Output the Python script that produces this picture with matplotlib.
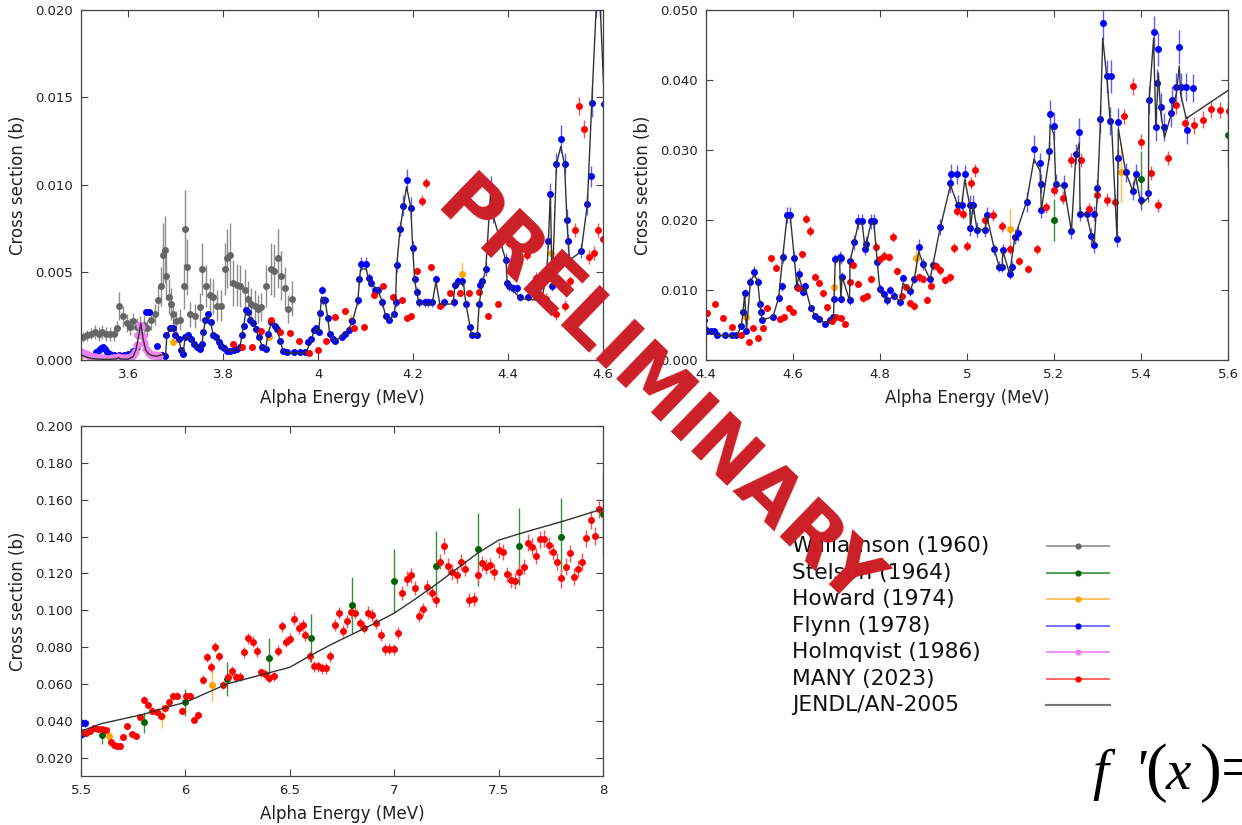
import matplotlib
matplotlib.use("Agg")
import matplotlib.pyplot as plt
from matplotlib.ticker import FuncFormatter, MultipleLocator

# ---------------- data (alpha energy in MeV, cross section in b) ----------------
will_e = [3.505, 3.513, 3.521, 3.529, 3.537, 3.545, 3.553, 3.561, 3.569, 3.576,
          3.581, 3.588, 3.596, 3.604, 3.610, 3.617, 3.625, 3.633, 3.640, 3.648,
          3.655, 3.662, 3.668, 3.672, 3.676, 3.680, 3.685, 3.690, 3.694, 3.700,
          3.708, 3.716, 3.720, 3.723, 3.730, 3.740, 3.750, 3.756, 3.763, 3.771,
          3.778, 3.787, 3.796, 3.804, 3.808, 3.813, 3.820, 3.828, 3.836, 3.845,
          3.851, 3.858, 3.866, 3.873, 3.880, 3.890, 3.900, 3.907, 3.916, 3.922,
          3.929, 3.937, 3.945]
will_xs = [0.0013, 0.0014, 0.0015, 0.0016, 0.0015, 0.0016, 0.0015, 0.0015, 0.0015, 0.0018,
           0.0031, 0.0025, 0.0021, 0.0019, 0.0022, 0.0019, 0.0020, 0.0020, 0.0018, 0.0023,
           0.0026, 0.0034, 0.0042, 0.0060, 0.0063, 0.0048, 0.0036, 0.0032, 0.0026, 0.0022,
           0.0023, 0.0042, 0.0075, 0.0053, 0.0026, 0.0025, 0.0030, 0.0052, 0.0042, 0.0037,
           0.0036, 0.0031, 0.0031, 0.0052, 0.0058, 0.0060, 0.0044, 0.0043, 0.0042, 0.0040,
           0.0035, 0.0032, 0.0031, 0.0029, 0.0030, 0.0042, 0.0052, 0.0051, 0.0058, 0.0048,
           0.0041, 0.0029, 0.0035]
will_err = [0.0003, 0.0003, 0.0003, 0.0004, 0.0004, 0.0004, 0.0004, 0.0004, 0.0004, 0.0004,
            0.0008, 0.0006, 0.0005, 0.0005, 0.0005, 0.0005, 0.0005, 0.0005, 0.0005, 0.0006,
            0.0006, 0.0008, 0.0011, 0.0018, 0.0019, 0.0014, 0.0010, 0.0009, 0.0007, 0.0006,
            0.0006, 0.0013, 0.0022, 0.0016, 0.0007, 0.0007, 0.0008, 0.0015, 0.0012, 0.0010,
            0.0010, 0.0009, 0.0009, 0.0015, 0.0017, 0.0018, 0.0013, 0.0012, 0.0012, 0.0012,
            0.0010, 0.0009, 0.0009, 0.0008, 0.0008, 0.0012, 0.0015, 0.0015, 0.0017, 0.0014,
            0.0012, 0.0008, 0.0010]

stel_e = [5.2, 5.4, 5.6, 5.8, 6.0, 6.2, 6.4, 6.6, 6.8, 7.0, 7.2, 7.4, 7.6, 7.8, 8.0]
stel_xs = [0.0200, 0.0259, 0.0321, 0.0391, 0.0500, 0.0626, 0.0738, 0.0850, 0.1027, 0.1159,
           0.1240, 0.1330, 0.1347, 0.1400, 0.1520]
stel_err = [0.0030, 0.0039, 0.0047, 0.0058, 0.0075, 0.0092, 0.0110, 0.0130, 0.0155, 0.0175,
            0.0190, 0.0200, 0.0210, 0.0210, 0.0225]

how_e = [3.500, 3.694, 3.896, 4.070, 4.303, 4.491, 4.694, 4.882, 5.098, 5.354, 5.635, 5.886, 6.129]
how_xs = [0.00020, 0.00100, 0.00130, 0.00230, 0.00490, 0.00610, 0.01040, 0.01450, 0.01870,
          0.02680, 0.03160, 0.04240, 0.05940]
how_err = [0.00005, 0.00010, 0.00015, 0.00030, 0.00070, 0.00090, 0.00150, 0.00200, 0.00280,
           0.00420, 0.00480, 0.00650, 0.00880]

flynn_e = [3.531, 3.537, 3.542, 3.546, 3.550, 3.555, 3.562, 3.570, 3.580, 3.590,
           3.600, 3.610, 3.619, 3.624, 3.636, 3.644, 3.661, 3.670, 3.678, 3.680,
           3.687, 3.694, 3.699, 3.706, 3.711, 3.715, 3.720, 3.725, 3.731, 3.739,
           3.745, 3.750, 3.755, 3.758, 3.762, 3.767, 3.773, 3.779, 3.784, 3.791,
           3.795, 3.801, 3.808, 3.815, 3.822, 3.828, 3.835, 3.839, 3.843, 3.847,
           3.852, 3.856, 3.863, 3.868, 3.875, 3.882, 3.889, 3.894, 3.901, 3.908,
           3.913, 3.920, 3.926, 3.934, 3.948, 3.962, 3.973, 3.978, 3.984, 3.990,
           3.996, 4.001, 4.004, 4.007, 4.009, 4.015, 4.020, 4.024, 4.030, 4.036,
           4.050, 4.057, 4.065, 4.071, 4.083, 4.085, 4.089, 4.101, 4.106, 4.112,
           4.119, 4.126, 4.135, 4.142, 4.148, 4.160, 4.163, 4.165, 4.172, 4.179,
           4.186, 4.195, 4.199, 4.203, 4.207, 4.213, 4.225, 4.232, 4.240, 4.248,
           4.264, 4.285, 4.288, 4.295, 4.302, 4.311, 4.320, 4.323, 4.335, 4.339,
           4.341, 4.346, 4.353, 4.363, 4.369, 4.396, 4.398, 4.402, 4.411, 4.418,
           4.426, 4.443, 4.460, 4.470, 4.481, 4.485, 4.489, 4.493, 4.502, 4.511,
           4.519, 4.524, 4.527, 4.529, 4.554, 4.567, 4.575, 4.576, 4.586, 4.594,
           4.603, 4.609, 4.613, 4.624, 4.628, 4.641, 4.651, 4.659, 4.674, 4.686,
           4.693, 4.695, 4.697, 4.707, 4.710, 4.711, 4.713, 4.730, 4.731, 4.741,
           4.750, 4.759, 4.766, 4.768, 4.779, 4.786, 4.794, 4.800, 4.809, 4.817,
           4.824, 4.832, 4.846, 4.853, 4.869, 4.879, 4.889, 4.899, 4.915, 4.922,
           4.937, 4.962, 4.963, 4.978, 4.979, 4.988, 4.995, 5.006, 5.008, 5.014,
           5.023, 5.042, 5.046, 5.063, 5.074, 5.081, 5.082, 5.098, 5.104, 5.110,
           5.117, 5.137, 5.154, 5.168, 5.169, 5.171, 5.189, 5.191, 5.200, 5.204,
           5.223, 5.240, 5.250, 5.258, 5.260, 5.275, 5.286, 5.292, 5.293, 5.300,
           5.306, 5.312, 5.322, 5.329, 5.332, 5.345, 5.346, 5.348, 5.365, 5.381,
           5.388, 5.400, 5.417, 5.418, 5.429, 5.434, 5.436, 5.440, 5.445, 5.454,
           5.469, 5.471, 5.481, 5.488, 5.491, 5.504, 5.505, 5.519]
flynn_xs = [0.00044, 0.00055, 0.00067, 0.00073, 0.00060, 0.00045, 0.00032, 0.00029, 0.00030, 0.00030,
            0.00034, 0.00050, 0.00075, 0.00140, 0.00274, 0.00274, 0.00078, 0.00030, 0.00022, 0.00143,
            0.00180, 0.00184, 0.00143, 0.00120, 0.00057, 0.00034, 0.00134, 0.00140, 0.00120, 0.00090,
            0.00076, 0.00063, 0.00090, 0.00160, 0.00226, 0.00264, 0.00216, 0.00140, 0.00134, 0.00100,
            0.00080, 0.00067, 0.00054, 0.00050, 0.00057, 0.00063, 0.00073, 0.00140, 0.00197, 0.00283,
            0.00273, 0.00230, 0.00210, 0.00178, 0.00130, 0.00076, 0.00063, 0.00150, 0.00216, 0.00197,
            0.00178, 0.00110, 0.00050, 0.00044, 0.00044, 0.00044, 0.00044, 0.00100, 0.00120, 0.00170,
            0.00180, 0.00160, 0.00270, 0.00400, 0.00340, 0.00340, 0.00240, 0.00150, 0.00120, 0.00110,
            0.00130, 0.00150, 0.00170, 0.00220, 0.00340, 0.00460, 0.00550, 0.00550, 0.00470, 0.00440,
            0.00400, 0.00400, 0.00330, 0.00250, 0.00230, 0.00260, 0.00330, 0.00540, 0.00750, 0.00880,
            0.01030, 0.00870, 0.00640, 0.00460, 0.00390, 0.00330, 0.00330, 0.00330, 0.00330, 0.00460,
            0.00330, 0.00330, 0.00430, 0.00450, 0.00450, 0.00320, 0.00190, 0.00143, 0.00143, 0.00320,
            0.00430, 0.00450, 0.00520, 0.00990, 0.00840, 0.00570, 0.00440, 0.00420, 0.00410, 0.00410,
            0.00360, 0.00360, 0.00360, 0.00350, 0.00490, 0.00680, 0.00950, 0.00420, 0.01120, 0.01260,
            0.01120, 0.00800, 0.00680, 0.00570, 0.00620, 0.00890, 0.01050, 0.01470, 0.02070, 0.02070,
            0.01460, 0.01040, 0.01230, 0.00970, 0.01050, 0.00740, 0.00630, 0.00590, 0.00520, 0.00570,
            0.00620, 0.00870, 0.01440, 0.01470, 0.00870, 0.01450, 0.01190, 0.00850, 0.01410, 0.01680,
            0.01980, 0.01980, 0.01580, 0.01660, 0.01980, 0.01980, 0.01400, 0.01020, 0.00940, 0.00850,
            0.01000, 0.00920, 0.00830, 0.01170, 0.00980, 0.01160, 0.01620, 0.01370, 0.01160, 0.01360,
            0.01900, 0.02530, 0.02660, 0.02650, 0.02220, 0.02220, 0.02650, 0.02220, 0.01880, 0.02220,
            0.01860, 0.01860, 0.02070, 0.01580, 0.01330, 0.01330, 0.01570, 0.01230, 0.01330, 0.01760,
            0.01810, 0.02260, 0.03010, 0.02810, 0.02520, 0.02140, 0.02990, 0.03520, 0.03340, 0.02510,
            0.02500, 0.01840, 0.02940, 0.03250, 0.02090, 0.02090, 0.01770, 0.01640, 0.02090, 0.02450,
            0.03440, 0.04810, 0.04050, 0.03420, 0.04050, 0.01730, 0.02880, 0.03400, 0.02680, 0.02420,
            0.02660, 0.02280, 0.02390, 0.03710, 0.04680, 0.03330, 0.03960, 0.04440, 0.03620, 0.03330,
            0.03530, 0.03720, 0.03900, 0.04470, 0.03900, 0.03900, 0.03290, 0.03880]
flynn_err = [0.0001, 0.0001, 0.0001, 0.0001, 0.0001, 0.0001, 0.0001, 0.0001, 0.0001, 0.0001,
             0.0001, 0.0001, 0.0001, 0.00012, 0.00015, 0.00015, 0.0001, 0.0001, 0.0001, 0.00012,
             0.00012, 0.00012, 0.00012, 0.00012, 0.0001, 0.0001, 0.00012, 0.00012, 0.00012, 0.0001,
             0.0001, 0.0001, 0.0001, 0.00012, 0.00015, 0.00015, 0.00015, 0.00012, 0.00012, 0.0001,
             0.0001, 0.0001, 0.0001, 0.0001, 0.0001, 0.0001, 0.0001, 0.00012, 0.00012, 0.00015,
             0.00015, 0.00015, 0.00015, 0.00012, 0.00012, 0.0001, 0.0001, 0.00012, 0.00015, 0.00012,
             0.00012, 0.00012, 0.0001, 0.0001, 0.0001, 0.0001, 0.0001, 0.0001, 0.00012, 0.00012,
             0.00012, 0.00012, 0.00015, 0.00025, 0.00025, 0.00025, 0.00015, 0.00012, 0.00012, 0.00012,
             0.00012, 0.00012, 0.00012, 0.00015, 0.00025, 0.00025, 0.0004, 0.0004, 0.00025, 0.00025,
             0.00025, 0.00025, 0.00025, 0.00015, 0.00015, 0.00015, 0.00025, 0.0004, 0.0004, 0.0006,
             0.0006, 0.0006, 0.0004, 0.00025, 0.00025, 0.00025, 0.00025, 0.00025, 0.00025, 0.00025,
             0.00025, 0.00025, 0.00025, 0.00025, 0.00025, 0.00025, 0.00012, 0.00012, 0.00012, 0.00025,
             0.00025, 0.00025, 0.0004, 0.0006, 0.0006, 0.0004, 0.00025, 0.00025, 0.00025, 0.00025,
             0.00025, 0.00025, 0.00025, 0.00025, 0.00025, 0.0004, 0.0006, 0.00025, 0.0006, 0.0008,
             0.0006, 0.0006, 0.0004, 0.0004, 0.0004, 0.0006, 0.0006, 0.0008, 0.0011, 0.0011,
             0.0008, 0.0006, 0.0008, 0.0006, 0.0006, 0.0004, 0.0004, 0.0004, 0.0004, 0.0004,
             0.0004, 0.0006, 0.0008, 0.0008, 0.0006, 0.0008, 0.0006, 0.0006, 0.0008, 0.0011,
             0.0011, 0.0011, 0.0008, 0.0011, 0.0011, 0.0011, 0.0008, 0.0006, 0.0006, 0.0006,
             0.0006, 0.0006, 0.0006, 0.0006, 0.0006, 0.0006, 0.0011, 0.0008, 0.0006, 0.0008,
             0.0011, 0.0014, 0.0014, 0.0014, 0.0014, 0.0014, 0.0014, 0.0014, 0.0011, 0.0014,
             0.0011, 0.0011, 0.0011, 0.0008, 0.0008, 0.0008, 0.0008, 0.0008, 0.0008, 0.0011,
             0.0011, 0.0014, 0.0020, 0.0014, 0.0014, 0.0011, 0.0014, 0.0020, 0.0020, 0.0014,
             0.0014, 0.0011, 0.0014, 0.0020, 0.0011, 0.0011, 0.0011, 0.0011, 0.0011, 0.0014,
             0.0020, 0.0024, 0.0024, 0.0020, 0.0024, 0.0011, 0.0014, 0.0020, 0.0014, 0.0014,
             0.0014, 0.0014, 0.0014, 0.0020, 0.0024, 0.0020, 0.0020, 0.0024, 0.0020, 0.0020,
             0.0020, 0.0020, 0.0020, 0.0024, 0.0020, 0.0020, 0.0020, 0.0020]

holm_e = [3.500, 3.505, 3.510, 3.515, 3.520, 3.525, 3.530, 3.535, 3.540, 3.545,
          3.550, 3.555, 3.560, 3.565, 3.570, 3.575, 3.578, 3.581, 3.585, 3.590,
          3.595, 3.600, 3.605, 3.610, 3.614, 3.618, 3.621, 3.624, 3.627, 3.630,
          3.633, 3.637, 3.641, 3.645, 3.650, 3.655, 3.660, 3.665]
holm_xs = [0.00045, 0.00040, 0.00033, 0.00027, 0.00022, 0.00018, 0.00015, 0.00012, 0.00010, 0.00009,
           0.00008, 0.00008, 0.00008, 0.00009, 0.00010, 0.00012, 0.00018, 0.00012, 0.00009, 0.00009,
           0.00010, 0.00012, 0.00016, 0.00026, 0.00045, 0.00085, 0.00140, 0.00200, 0.00190, 0.00135,
           0.00095, 0.00065, 0.00048, 0.00037, 0.00030, 0.00026, 0.00024, 0.00022]
holm_err = [0.00006, 0.00006, 0.00006, 0.00006, 0.00006, 0.00005, 0.00005, 0.00005, 0.00005, 0.00005,
            0.00005, 0.00005, 0.00005, 0.00005, 0.00005, 0.00005, 0.00005, 0.00005, 0.00005, 0.00005,
            0.00005, 0.00005, 0.00005, 0.00006, 0.00006, 0.00008, 0.00010, 0.00012, 0.00012, 0.00010,
            0.00008, 0.00006, 0.00006, 0.00006, 0.00005, 0.00005, 0.00005, 0.00005]

many_e = [3.820, 3.840, 3.861, 3.880, 3.901, 3.920, 3.940, 3.960, 3.980, 3.999,
          4.016, 4.035, 4.057, 4.076, 4.096, 4.117, 4.136, 4.157, 4.177, 4.188,
          4.196, 4.207, 4.218, 4.227, 4.238, 4.257, 4.278, 4.298, 4.318, 4.339,
          4.358, 4.379, 4.402, 4.420, 4.440, 4.459, 4.480, 4.500, 4.509, 4.520,
          4.530, 4.540, 4.550, 4.560, 4.570, 4.580, 4.590, 4.600, 4.611, 4.621,
          4.631, 4.640, 4.650, 4.660, 4.670, 4.679, 4.690, 4.699, 4.710, 4.720,
          4.730, 4.739, 4.750, 4.760, 4.770, 4.779, 4.791, 4.800, 4.810, 4.820,
          4.829, 4.840, 4.850, 4.860, 4.869, 4.878, 4.889, 4.899, 4.908, 4.918,
          4.929, 4.938, 4.950, 4.960, 4.969, 4.978, 4.990, 5.000, 5.009, 5.019,
          5.041, 5.060, 5.081, 5.100, 5.120, 5.140, 5.160, 5.181, 5.200, 5.221,
          5.240, 5.262, 5.281, 5.300, 5.321, 5.340, 5.362, 5.381, 5.400, 5.422,
          5.440, 5.462, 5.481, 5.502, 5.522, 5.542, 5.562, 5.582, 5.602, 5.622,
          5.642, 5.658, 5.674, 5.686,
          5.703, 5.722, 5.742, 5.762, 5.783, 5.802, 5.822, 5.842, 5.862, 5.882,
          5.903, 5.922, 5.942, 5.962, 5.982, 6.002, 6.023, 6.042, 6.062, 6.082,
          6.102, 6.122, 6.142, 6.162, 6.182, 6.202, 6.222, 6.242, 6.262, 6.282,
          6.302, 6.322, 6.342, 6.362, 6.382, 6.402, 6.422, 6.442, 6.462, 6.482,
          6.502, 6.522, 6.542, 6.562, 6.575, 6.595, 6.614, 6.635, 6.654, 6.675,
          6.694, 6.715, 6.734, 6.755, 6.774, 6.795, 6.814, 6.835, 6.854, 6.875,
          6.894, 6.915, 6.936, 6.957, 6.976, 6.998, 7.018, 7.038, 7.059, 7.079,
          7.099, 7.119, 7.139, 7.159, 7.179, 7.199, 7.220, 7.239, 7.260, 7.279,
          7.300, 7.319, 7.340, 7.359, 7.380, 7.399, 7.420, 7.439, 7.460, 7.479,
          7.500, 7.519, 7.540, 7.559, 7.579, 7.599, 7.620, 7.639, 7.660, 7.679,
          7.700, 7.719, 7.740, 7.760, 7.780, 7.800, 7.821, 7.840, 7.861, 7.880,
          7.901, 7.920, 7.941, 7.960, 7.981]
many_xs = [0.00092, 0.00073, 0.00076, 0.00164, 0.00230, 0.00159, 0.00153, 0.00107, 0.00038, 0.00057,
           0.00107, 0.00245, 0.00280, 0.00180, 0.00190, 0.00370, 0.00420, 0.00360, 0.00340, 0.00240,
           0.00250, 0.00510, 0.00910, 0.01010, 0.00530, 0.00310, 0.00380, 0.00380, 0.00380, 0.00390,
           0.00250, 0.00320, 0.00670, 0.00800, 0.00600, 0.00470, 0.00350, 0.00260, 0.00450, 0.00310,
           0.00450, 0.00740, 0.01450, 0.01320, 0.00590, 0.00610, 0.00740, 0.00690, 0.01030, 0.01510,
           0.02020, 0.01840, 0.01190, 0.01100, 0.00950, 0.00750, 0.00550, 0.00620, 0.00600, 0.00520,
           0.01110, 0.01360, 0.01090, 0.00880, 0.00910, 0.01160, 0.01620, 0.01440, 0.01490, 0.01470,
           0.01760, 0.01270, 0.00910, 0.01040, 0.00810, 0.00770, 0.01180, 0.01160, 0.00860, 0.01060,
           0.01340, 0.01280, 0.01140, 0.01180, 0.01600, 0.02130, 0.02090, 0.01630, 0.02530, 0.02710,
           0.02000, 0.02070, 0.01910, 0.01590, 0.01410, 0.01300, 0.01580, 0.02180, 0.02430, 0.02320,
           0.02860, 0.02860, 0.02160, 0.02350, 0.02290, 0.02260, 0.03480, 0.03910, 0.03120, 0.02670,
           0.02210, 0.02880, 0.03640, 0.03380, 0.03350, 0.03430, 0.03580, 0.03570, 0.03560, 0.03500,
           0.02870, 0.02690, 0.02650, 0.02610,
           0.03100, 0.03700, 0.03280, 0.03160, 0.04190, 0.05140, 0.04850, 0.04550, 0.04490, 0.04240,
           0.04670, 0.05000, 0.05360, 0.05360, 0.04550, 0.05360, 0.05360, 0.04060, 0.04310, 0.06230,
           0.07440, 0.06930, 0.08000, 0.07490, 0.05940, 0.06350, 0.06710, 0.06350, 0.06390, 0.07710,
           0.08480, 0.08280, 0.07760, 0.06620, 0.06530, 0.06300, 0.06410, 0.07810, 0.09120, 0.08280,
           0.08460, 0.09550, 0.09020, 0.09190, 0.08650, 0.07490, 0.06950, 0.06950, 0.06840, 0.06840,
           0.07490, 0.09210, 0.09840, 0.08880, 0.09390, 0.09930, 0.09840, 0.09280, 0.09060, 0.09870,
           0.09750, 0.09280, 0.08660, 0.07890, 0.07920, 0.07890, 0.08750, 0.10920, 0.11720, 0.11900,
           0.11190, 0.09690, 0.10050, 0.11280, 0.10960, 0.10560, 0.12640, 0.13490, 0.12400, 0.12080,
           0.11900, 0.12620, 0.12260, 0.10560, 0.10630, 0.11910, 0.12550, 0.12370, 0.12440, 0.12080,
           0.13270, 0.13160, 0.11950, 0.11640, 0.11590, 0.12090, 0.12370, 0.13670, 0.13450, 0.12940,
           0.13850, 0.13880, 0.13520, 0.13160, 0.12640, 0.11730, 0.12370, 0.13090, 0.11820, 0.12260,
           0.12620, 0.13900, 0.14890, 0.14030, 0.15510]
many_err = [0.00008, 0.00008, 0.00008, 0.0001, 0.0001, 0.0001, 0.0001, 0.0001, 0.00008, 0.00008,
            0.0001, 0.00012, 0.00012, 0.0001, 0.0001, 0.00015, 0.00015, 0.00015, 0.00015, 0.00015,
            0.00015, 0.0002, 0.0003, 0.0003, 0.0002, 0.00015, 0.00015, 0.00015, 0.00015, 0.00015,
            0.00015, 0.00015, 0.0003, 0.0003, 0.0003, 0.0003, 0.0003, 0.0003, 0.0003, 0.0003,
            0.0003, 0.0004, 0.0005, 0.0005, 0.0004, 0.0004, 0.0004, 0.0004, 0.0005, 0.0005,
            0.0007, 0.0007, 0.0005, 0.0005, 0.0005, 0.0005, 0.0004, 0.0004, 0.0004, 0.0004,
            0.0005, 0.0006, 0.0005, 0.0005, 0.0005, 0.0006, 0.0007, 0.0006, 0.0006, 0.0006,
            0.0007, 0.0006, 0.0005, 0.0005, 0.0005, 0.0005, 0.0006, 0.0006, 0.0005, 0.0005,
            0.0006, 0.0006, 0.0006, 0.0006, 0.0007, 0.0008, 0.0008, 0.0007, 0.0009, 0.0009,
            0.0008, 0.0008, 0.0008, 0.0007, 0.0006, 0.0006, 0.0007, 0.0008, 0.0009, 0.0009,
            0.0010, 0.0010, 0.0008, 0.0009, 0.0009, 0.0009, 0.0011, 0.0012, 0.0011, 0.0010,
            0.0009, 0.0010, 0.0012, 0.0012, 0.0012, 0.0012, 0.0012, 0.0012, 0.0012, 0.0012,
            0.0012, 0.0012, 0.0012, 0.0012,
            0.0012, 0.0014, 0.0014, 0.0014, 0.0016, 0.0018, 0.0018, 0.0018, 0.0018, 0.0018,
            0.0018, 0.0020, 0.0020, 0.0020, 0.0020, 0.0020, 0.0020, 0.0020, 0.0020, 0.0024,
            0.0026, 0.0026, 0.0028, 0.0026, 0.0024, 0.0024, 0.0026, 0.0024, 0.0024, 0.0028,
            0.0030, 0.0030, 0.0028, 0.0026, 0.0026, 0.0026, 0.0026, 0.0028, 0.0032, 0.0030,
            0.0030, 0.0034, 0.0032, 0.0032, 0.0030, 0.0028, 0.0028, 0.0028, 0.0028, 0.0028,
            0.0028, 0.0032, 0.0034, 0.0032, 0.0034, 0.0034, 0.0034, 0.0032, 0.0032, 0.0034,
            0.0034, 0.0032, 0.0032, 0.0030, 0.0030, 0.0030, 0.0032, 0.0038, 0.0040, 0.0040,
            0.0038, 0.0034, 0.0036, 0.0038, 0.0038, 0.0038, 0.0042, 0.0044, 0.0042, 0.0042,
            0.0042, 0.0042, 0.0042, 0.0038, 0.0038, 0.0042, 0.0042, 0.0042, 0.0042, 0.0042,
            0.0044, 0.0044, 0.0042, 0.0042, 0.0042, 0.0042, 0.0042, 0.0046, 0.0046, 0.0044,
            0.0046, 0.0046, 0.0046, 0.0044, 0.0044, 0.0050, 0.0044, 0.0046, 0.0046, 0.0046,
            0.0046, 0.0048, 0.0050, 0.0050, 0.0052]

jendl_e = [3.500, 3.510, 3.520, 3.530, 3.545, 3.560, 3.575, 3.579, 3.583, 3.600,
           3.610, 3.616, 3.621, 3.626, 3.631, 3.636, 3.642, 3.650, 3.660, 3.670,
           3.678, 3.681, 3.687, 3.694, 3.699, 3.706, 3.711, 3.715, 3.720, 3.725,
           3.731, 3.739, 3.750, 3.755, 3.758, 3.762, 3.767, 3.773, 3.779, 3.784,
           3.791, 3.801, 3.815, 3.828, 3.835, 3.839, 3.843, 3.847, 3.852, 3.863,
           3.875, 3.882, 3.889, 3.894, 3.901, 3.908, 3.913, 3.920, 3.926, 3.934,
           3.973, 3.984, 3.990, 3.996, 4.001, 4.004, 4.007, 4.015, 4.020, 4.024,
           4.030, 4.036, 4.057, 4.071, 4.083, 4.089, 4.101, 4.106, 4.112, 4.126,
           4.135, 4.142, 4.148, 4.160, 4.163, 4.165, 4.172, 4.179, 4.186, 4.195,
           4.199, 4.203, 4.207, 4.213, 4.240, 4.248, 4.256, 4.284, 4.288, 4.301,
           4.306, 4.311, 4.320, 4.323, 4.335, 4.339, 4.346, 4.353, 4.363, 4.369,
           4.396, 4.398, 4.410, 4.426, 4.470, 4.481, 4.485, 4.489, 4.493, 4.502,
           4.511, 4.519, 4.524, 4.529, 4.554, 4.567, 4.576, 4.586, 4.594, 4.603,
           4.609, 4.613, 4.624, 4.628, 4.641, 4.651, 4.674, 4.693, 4.697, 4.707,
           4.710, 4.713, 4.730, 4.731, 4.741, 4.750, 4.759, 4.766, 4.779, 4.786,
           4.794, 4.800, 4.817, 4.832, 4.846, 4.853, 4.869, 4.879, 4.889, 4.899,
           4.915, 4.937, 4.962, 4.978, 4.988, 4.995, 5.006, 5.008, 5.014, 5.023,
           5.042, 5.046, 5.063, 5.074, 5.081, 5.082, 5.098, 5.110, 5.137, 5.154,
           5.168, 5.171, 5.189, 5.191, 5.200, 5.204, 5.223, 5.240, 5.250, 5.258,
           5.260, 5.275, 5.286, 5.292, 5.300, 5.306, 5.312, 5.322, 5.329, 5.332,
           5.345, 5.348, 5.365, 5.381, 5.388, 5.400, 5.417, 5.418, 5.429, 5.434,
           5.440, 5.445, 5.454, 5.469, 5.481, 5.488, 5.491, 5.504, 5.600, 5.700,
           5.800, 5.900, 6.000, 6.100, 6.200, 6.300, 6.400, 6.500, 6.600, 6.700,
           6.800, 6.900, 7.000, 7.100, 7.200, 7.300, 7.400, 7.500, 7.600, 7.700,
           7.800, 7.900, 8.000]
jendl_xs = [0.00030, 0.00018, 0.00010, 0.00006, 0.00004, 0.00004, 0.00006, 0.00014, 0.00005, 0.00005,
            0.00020, 0.00060, 0.00130, 0.00210, 0.00120, 0.00060, 0.00035, 0.00025, 0.00022, 0.00030,
            0.00025, 0.00140, 0.00180, 0.00184, 0.00143, 0.00120, 0.00057, 0.00040, 0.00134, 0.00135,
            0.00120, 0.00090, 0.00063, 0.00090, 0.00160, 0.00226, 0.00250, 0.00216, 0.00140, 0.00130,
            0.00100, 0.00067, 0.00050, 0.00060, 0.00073, 0.00140, 0.00197, 0.00270, 0.00265, 0.00210,
            0.00130, 0.00076, 0.00063, 0.00150, 0.00210, 0.00197, 0.00178, 0.00110, 0.00050, 0.00040,
            0.00040, 0.00100, 0.00160, 0.00180, 0.00160, 0.00270, 0.00360, 0.00330, 0.00240, 0.00150,
            0.00120, 0.00110, 0.00150, 0.00210, 0.00330, 0.00520, 0.00520, 0.00460, 0.00430, 0.00400,
            0.00330, 0.00250, 0.00230, 0.00260, 0.00330, 0.00530, 0.00740, 0.00870, 0.00990, 0.00870,
            0.00640, 0.00460, 0.00390, 0.00320, 0.00320, 0.00450, 0.00320, 0.00320, 0.00430, 0.00440,
            0.00440, 0.00320, 0.00190, 0.00140, 0.00140, 0.00320, 0.00440, 0.00520, 0.00950, 0.00820,
            0.00560, 0.00440, 0.00400, 0.00350, 0.00340, 0.00480, 0.00680, 0.00950, 0.00420, 0.01120,
            0.01220, 0.01120, 0.00800, 0.00570, 0.00620, 0.00890, 0.01450, 0.02030, 0.02030, 0.01460,
            0.01040, 0.01200, 0.00970, 0.01040, 0.00740, 0.00630, 0.00520, 0.00600, 0.01400, 0.01450,
            0.00870, 0.01190, 0.00850, 0.01410, 0.01680, 0.01950, 0.01950, 0.01580, 0.01950, 0.01950,
            0.01400, 0.00970, 0.00850, 0.00920, 0.00830, 0.01100, 0.00980, 0.01160, 0.01550, 0.01370,
            0.01150, 0.01850, 0.02500, 0.02220, 0.02220, 0.02580, 0.02220, 0.01880, 0.02220, 0.01860,
            0.01860, 0.02050, 0.01580, 0.01330, 0.01330, 0.01570, 0.01230, 0.01760, 0.02260, 0.02870,
            0.02700, 0.02140, 0.02900, 0.03360, 0.03220, 0.02500, 0.02480, 0.01840, 0.02900, 0.03100,
            0.02090, 0.02090, 0.01770, 0.01640, 0.02400, 0.03300, 0.04600, 0.04000, 0.03420, 0.03400,
            0.01730, 0.03300, 0.02680, 0.02420, 0.02630, 0.02220, 0.02320, 0.03650, 0.04600, 0.03330,
            0.04100, 0.03550, 0.03180, 0.03500, 0.03800, 0.04200, 0.03800, 0.03450, 0.03850, 0.04100,
            0.04350, 0.04700, 0.05000, 0.05500, 0.06000, 0.06300, 0.06600, 0.06900, 0.07550, 0.08150,
            0.08700, 0.09250, 0.09840, 0.10600, 0.11400, 0.12250, 0.13100, 0.13800, 0.14150, 0.14480,
            0.14800, 0.15150, 0.15500]

legend_labels = ["Williamson (1960)", "Stelson (1964)", "Howard (1974)", "Flynn (1978)",
                 "Holmqvist (1986)", "MANY (2023)", "JENDL/AN-2005"]

# marker colour, error-bar colour, marker size
series = [
    (will_e, will_xs, will_err, "#666666", "#8e8e8e", 5),
    (stel_e, stel_xs, stel_err, "#006400", "#3a8f3a", 5),
    (how_e, how_xs, how_err, "#ffa500", "#ffb84d", 5),
    (flynn_e, flynn_xs, flynn_err, "#0000ff", "#5c5cff", 5),
    (holm_e, holm_xs, holm_err, "#ee82ee", "#ee82ee", 6),
    (many_e, many_xs, many_err, "#ff0000", "#ff5050", 5),
]

W, H = 1242, 825
fig = plt.figure(figsize=(12.42, 8.25), dpi=100)


def add_panel(left, top, right, bottom):
    return fig.add_axes([left / W, 1 - bottom / H, (right - left) / W, (bottom - top) / H])


panels = [
    (add_panel(81, 10, 603, 360), (3.5, 4.6), (0.0, 0.020), 0.2, 0.005),
    (add_panel(706, 10, 1228, 360), (4.4, 5.6), (0.0, 0.050), 0.2, 0.010),
    (add_panel(81, 426, 603, 776), (5.5, 8.0), (0.010, 0.200), 0.5, 0.020),
]

for ax, xl, yl, xstep, ystep in panels:
    for e, xs, err, mc, ec, ms in series:
        ax.errorbar(e, xs, yerr=err, fmt="o", ms=ms, mew=0, color=mc, ecolor=ec,
                    elinewidth=1, capsize=3, capthick=1)
    ax.plot(jendl_e, jendl_xs, color="#333333", lw=1, zorder=5)
    ax.set_xlim(*xl)
    ax.set_ylim(*yl)
    ax.xaxis.set_major_locator(MultipleLocator(xstep))
    ax.yaxis.set_major_locator(MultipleLocator(ystep))
    ax.xaxis.set_major_formatter(FuncFormatter(lambda v, p: f"{v:g}"))
    ax.yaxis.set_major_formatter(FuncFormatter(lambda v, p: f"{v:.3f}"))
    ax.tick_params(direction="in", top=True, right=True, length=5, width=0.8,
                   color="#444444", labelsize=9.5, labelcolor="#222222", pad=6)
    for sp in ax.spines.values():
        sp.set_color("#444444")
        sp.set_linewidth(0.9)
    ax.set_ylabel("Cross section (b)", fontsize=12, va="center", color="#222222")
    ax.set_xlabel("Alpha Energy (MeV)", fontsize=12, va="center", color="#222222")
    ax.yaxis.set_label_coords(-0.1207, 0.5)
    ax.xaxis.set_label_coords(0.5, -0.109)

# overlay in pixel coordinates for legend, watermark and formula
ov = fig.add_axes([0, 0, 1, 1])
ov.set_xlim(0, W)
ov.set_ylim(H, 0)
ov.axis("off")

for i, lab in enumerate(legend_labels):
    y = 546 + i * 26.5
    ov.text(792, y, lab, fontsize=15.7, va="center", ha="left", color="#111111")
    if i < len(series):
        mc, ec, ms = series[i][3], series[i][4], series[i][5]
        ov.errorbar([1078], [y], xerr=[32], fmt="o", ms=4.5, mew=0, color=mc, ecolor=ec,
                    elinewidth=1.2, capsize=3, capthick=1)
    else:
        ov.plot([1046, 1110], [y, y], color="#777777", lw=1.5)

ov.text(657, 395, "PRELIMINARY", rotation=-44, rotation_mode="anchor", ha="center",
        va="center", fontsize=55, fontweight="bold", color="#cc1f27", zorder=10)

serif = "Liberation Serif"
ov.text(1092, 789, "f", fontsize=41, style="italic", family=serif, va="baseline")
ov.text(1133, 789, "'", fontsize=41, style="italic", family=serif, va="baseline")
ov.text(1145, 789, "(", fontsize=47, family=serif, va="baseline")
ov.text(1166, 789, "x", fontsize=41, style="italic", family=serif, va="baseline")
ov.text(1200, 789, ")", fontsize=47, family=serif, va="baseline")
ov.text(1221, 789, "=", fontsize=47, family=serif, va="baseline")

fig.savefig("out.png", dpi=100)
